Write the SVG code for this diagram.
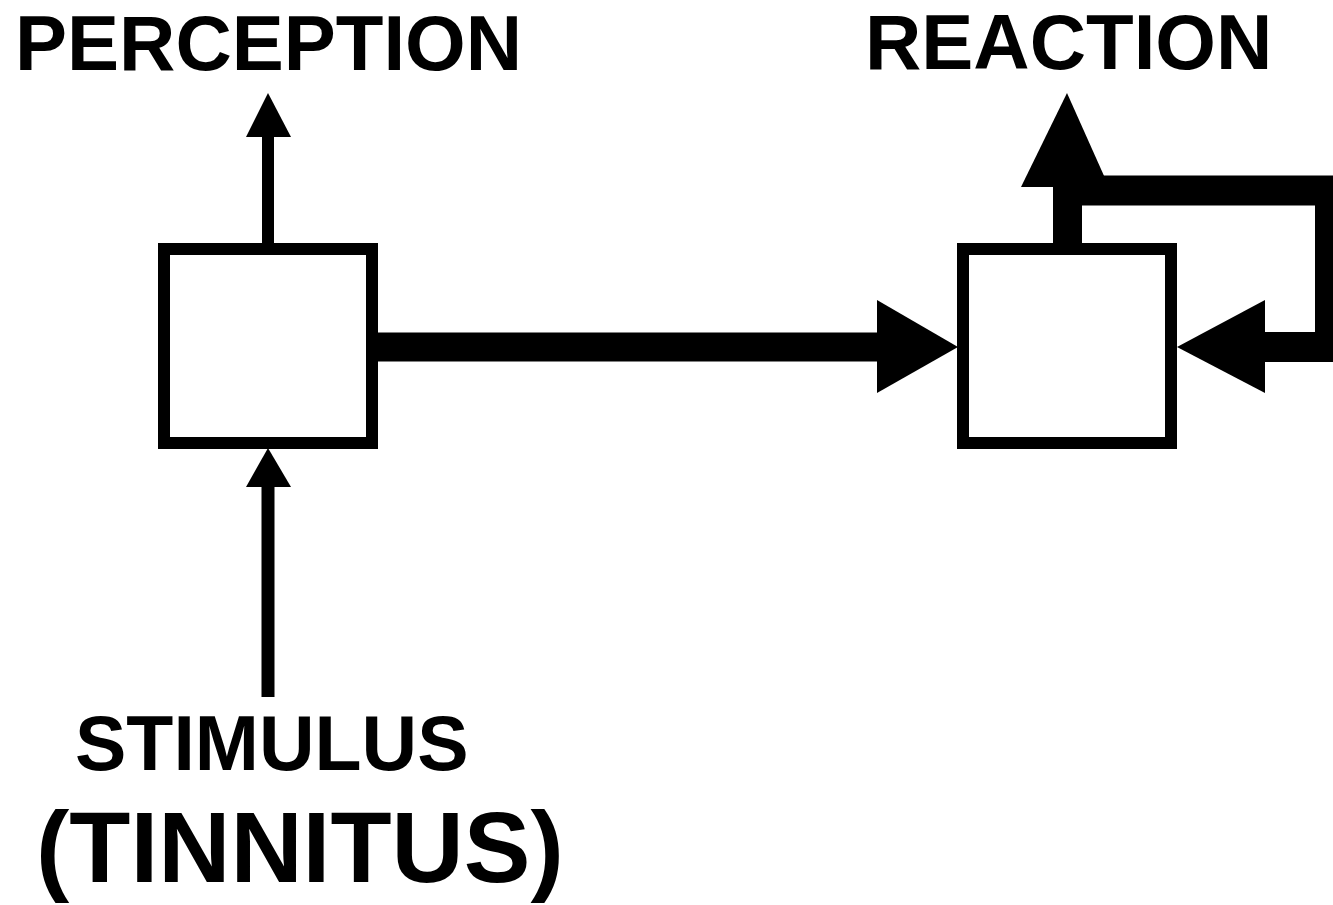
<svg xmlns="http://www.w3.org/2000/svg" width="1333" height="905" viewBox="0 0 1333 905">
  <style>
    .box { fill: #ffffff; stroke: #000000; stroke-width: 12; }
    .line { fill: none; stroke: #000000; stroke-linejoin: miter; stroke-linecap: butt; }
    .head { fill: #000000; stroke: none; }
    .lbl { font-family: "Liberation Sans", Arial, sans-serif; font-weight: bold; fill: #000000; }
  </style>
  <rect width="1333" height="905" fill="#ffffff"/>
  <g id="perception-box">
    <rect class="box" x="164" y="249" width="208" height="194"/>
  </g>
  <g id="reaction-box">
    <rect class="box" x="963" y="249" width="208" height="194"/>
  </g>
  <g id="connectors">
    <line class="line" x1="268" y1="244" x2="268" y2="135" stroke-width="12"/>
    <polygon class="head" points="268,93 246,137 291,137"/>
    <line class="line" x1="268" y1="697" x2="268" y2="485" stroke-width="13"/>
    <polygon class="head" points="268,448 246,487 291,487"/>
    <line class="line" x1="377" y1="347" x2="879" y2="347" stroke-width="29"/>
    <polygon class="head" points="877,300 958,347 877,393"/>
    <line class="line" x1="1067.5" y1="244" x2="1067.5" y2="185" stroke-width="29"/>
    <polygon class="head" points="1067,93 1021,187 1109,187"/>
    <path class="line" d="M1067,190.5 H1330 V347 H1263" stroke-width="30"/>
    <polygon class="head" points="1265,300 1177,347 1265,393"/>
  </g>
  <g id="labels">
    <text class="lbl" x="15" y="70" font-size="78">PERCEPTION</text>
    <text class="lbl" x="865" y="69" font-size="78">REACTION</text>
    <text class="lbl" x="75" y="770" font-size="77">STIMULUS</text>
    <text class="lbl" x="36" y="882" font-size="100">(TINNITUS)</text>
  </g>
</svg>
